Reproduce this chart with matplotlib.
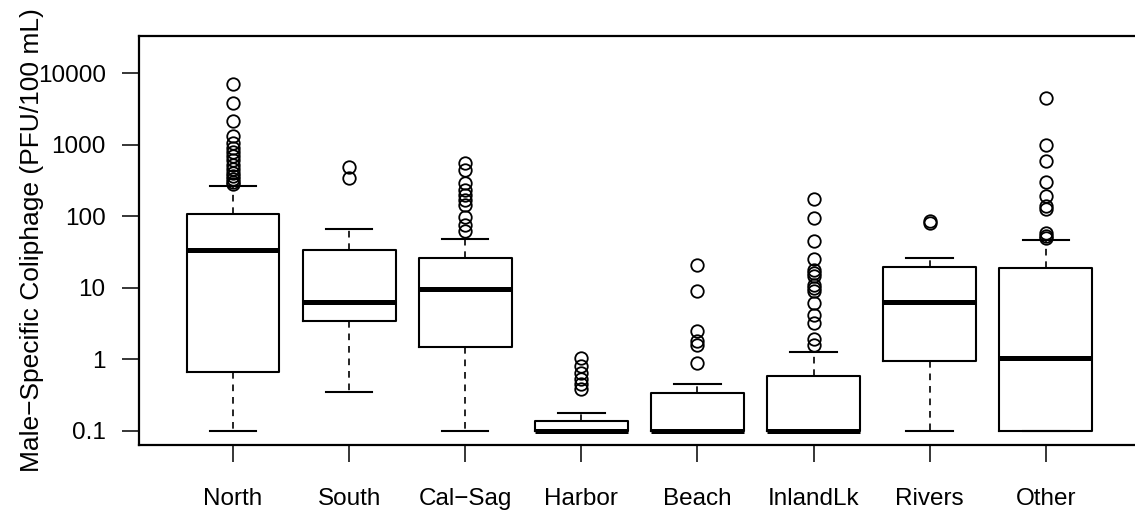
import matplotlib
matplotlib.use("Agg")
import matplotlib.pyplot as plt
from matplotlib.ticker import FixedLocator, NullLocator

plt.rcParams['font.family'] = ['Liberation Sans', 'DejaVu Sans']

# box stats (PFU/100 mL)
sites = ['North', 'South', 'Cal\u2212Sag', 'Harbor', 'Beach', 'InlandLk', 'Rivers', 'Other']
whislo = [0.1, 0.35, 0.1, 0.1, 0.1, 0.1, 0.1, 0.1]
q1 = [0.665, 3.4, 1.5, 0.1, 0.1, 0.1, 0.95, 0.1]
med = [33.4, 6.3, 9.5, 0.1, 0.1, 0.1, 6.4, 1.05]
q3 = [109, 34, 26.2, 0.138, 0.336, 0.586, 19.6, 19]
whishi = [265, 66, 48, 0.18, 0.46, 1.26, 25.9, 47]
fliers = [
    [7000, 3800, 2150, 1300, 1050, 900, 800, 700, 600, 520, 460, 400, 360, 330, 300, 280],
    [490, 340],
    [554, 447, 291, 235, 200, 171, 145, 98, 76, 62],
    [1.06, 0.81, 0.65, 0.53, 0.45, 0.38],
    [21, 9, 2.5, 1.8, 1.6, 0.9],
    [174, 95, 45, 25.4, 18, 16, 14.5, 11, 10, 9, 6.2, 4.2, 3.2, 1.9, 1.6],
    [80, 85],
    [4470, 1000, 597, 297, 190, 137, 128, 58, 53, 50],
]
yticks = [0.1, 1, 10, 100, 1000, 10000]
ytick_labels = ['0.1', '1', '10', '100', '1000', '10000']

stats = []
for i in range(len(sites)):
    stats.append(dict(label=sites[i], whislo=whislo[i], q1=q1[i], med=med[i],
                      q3=q3[i], whishi=whishi[i], fliers=fliers[i]))

fig = plt.figure(figsize=(11.35, 5.15), dpi=100)
ax = fig.add_axes([139 / 1135, 70 / 515, 1002 / 1135, 409 / 515])

ax.bxp(stats, widths=0.8, patch_artist=False,
       boxprops=dict(color='black', linewidth=1.5),
       medianprops=dict(color='black', linewidth=3.6, solid_capstyle='butt'),
       whiskerprops=dict(color='black', linewidth=1.2, linestyle=(0, (4, 3.5))),
       capprops=dict(color='black', linewidth=1.5),
       capwidths=0.4,
       flierprops=dict(marker='o', markerfacecolor='none', markeredgecolor='black',
                       markersize=9, markeredgewidth=1.3))

ax.set_yscale('log')
ax.set_ylim(0.0637, 32900)
ax.set_xlim(0.19, 8.82)
ax.yaxis.set_major_locator(FixedLocator(yticks))
ax.yaxis.set_minor_locator(NullLocator())
ax.set_yticklabels(ytick_labels)

ax.tick_params(axis='y', length=12, width=1.1, pad=12, labelsize=17.5)
ax.tick_params(axis='x', length=12, width=1.1, pad=19, labelsize=17.5)
for s in ax.spines.values():
    s.set_linewidth(1.6)

ax.set_ylabel('Male\u2212Specific Coliphage (PFU/100 mL)', fontsize=19)
ax.yaxis.set_label_coords(-0.095, 0.5)

fig.savefig('out.png', dpi=100)
